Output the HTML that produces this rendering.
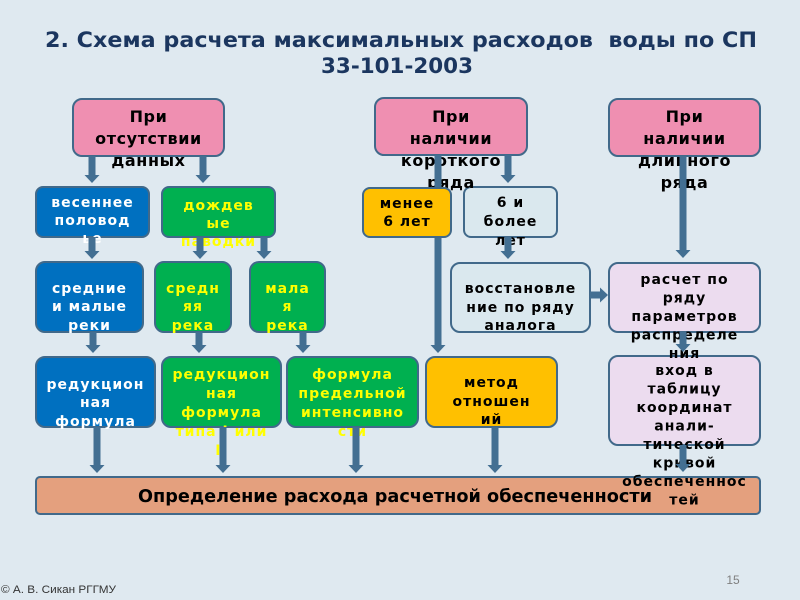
<!DOCTYPE html>
<html><head><meta charset="utf-8"><style>
html,body{margin:0;padding:0;background:#dfe9f0;}
svg{display:block;}
.b{font-family:"DejaVu Sans","Liberation Sans",sans-serif;font-weight:bold;font-size:14px;letter-spacing:1px;text-anchor:middle;}
.p{font-family:"DejaVu Sans","Liberation Sans",sans-serif;font-weight:bold;font-size:16px;letter-spacing:0.6px;text-anchor:middle;fill:#000;}
.w{fill:#fff;}.y{fill:#ffff00;}.k{fill:#000;}
</style></head><body>
<svg width="800" height="600" viewBox="0 0 800 600" xmlns="http://www.w3.org/2000/svg">
<rect x="0" y="0" width="800" height="600" fill="#dfe9f0"/>
<!-- title -->
<text x="401" y="47" font-family="DejaVu Sans, Liberation Sans, sans-serif" font-weight="bold" font-size="21" fill="#1b365f" text-anchor="middle" textLength="712" lengthAdjust="spacingAndGlyphs" xml:space="preserve">2. Схема расчета максимальных расходов  воды по СП</text>
<text x="397" y="73" font-family="DejaVu Sans, Liberation Sans, sans-serif" font-weight="bold" font-size="21" fill="#1b365f" text-anchor="middle" textLength="152" lengthAdjust="spacingAndGlyphs">33-101-2003</text>

<g stroke="#41698a" stroke-width="2">
<!-- top pink -->
<rect x="73" y="99" width="151" height="57" rx="9" fill="#ef8fb1"/>
<rect x="375" y="98" width="152" height="57" rx="9" fill="#ef8fb1"/>
<rect x="609" y="99" width="151" height="57" rx="9" fill="#ef8fb1"/>
<!-- row1 -->
<rect x="36" y="187" width="113" height="50" rx="7" fill="#0070c0"/>
<rect x="162" y="187" width="113" height="50" rx="7" fill="#00b050"/>
<rect x="464" y="187" width="93" height="50" rx="7" fill="#dae8ee"/>
<!-- row2 -->
<rect x="36" y="262" width="107" height="70" rx="9" fill="#0070c0"/>
<rect x="155" y="262" width="76" height="70" rx="9" fill="#00b050"/>
<rect x="250" y="262" width="75" height="70" rx="9" fill="#00b050"/>
<rect x="451" y="263" width="139" height="69" rx="9" fill="#dae8ee"/>
<rect x="609" y="263" width="151" height="69" rx="9" fill="#ecdcef"/>
<!-- row3 -->
<rect x="36" y="357" width="119" height="70" rx="9" fill="#0070c0"/>
<rect x="162" y="357" width="119" height="70" rx="9" fill="#00b050"/>
<rect x="287" y="357" width="131" height="70" rx="9" fill="#00b050"/>
<rect x="426" y="357" width="131" height="70" rx="9" fill="#ffc000"/>
<rect x="609" y="356" width="151" height="89" rx="9" fill="#ecdcef"/>
<!-- bottom bar -->
<rect x="36" y="477" width="724" height="37" rx="4" fill="#e4a07e"/>
</g>

<!-- texts -->
<text class="p" x="148.5"><tspan x="148.5" y="122">При</tspan><tspan x="148.5" y="144">отсутствии</tspan><tspan x="148.5" y="166">данных</tspan></text>
<text class="p" x="451"><tspan x="451" y="122">При</tspan><tspan x="451" y="144">наличии</tspan><tspan x="451" y="166">короткого</tspan><tspan x="451" y="188">ряда</tspan></text>
<text class="p" x="684.5"><tspan x="684.5" y="122">При</tspan><tspan x="684.5" y="144">наличии</tspan><tspan x="684.5" y="166">длинного</tspan><tspan x="684.5" y="188">ряда</tspan></text>

<text class="b w"><tspan x="92.5" y="207">весеннее</tspan><tspan x="92.5" y="225">половод</tspan><tspan x="92.5" y="243">ье</tspan></text>
<text class="b y"><tspan x="218.5" y="210">дождев</tspan><tspan x="218.5" y="228">ые</tspan><tspan x="218.5" y="246">паводки</tspan></text>
<text class="b k"><tspan x="510.5" y="207">6 и</tspan><tspan x="510.5" y="226">более</tspan><tspan x="510.5" y="245">лет</tspan></text>

<text class="b w"><tspan x="89.5" y="293">средние</tspan><tspan x="89.5" y="311">и малые</tspan><tspan x="89.5" y="330">реки</tspan></text>
<text class="b y"><tspan x="193" y="293">средн</tspan><tspan x="193" y="311">яя</tspan><tspan x="193" y="330">река</tspan></text>
<text class="b y"><tspan x="287.5" y="293">мала</tspan><tspan x="287.5" y="311">я</tspan><tspan x="287.5" y="330">река</tspan></text>
<text class="b k"><tspan x="520.5" y="293">восстановле</tspan><tspan x="520.5" y="312">ние по ряду</tspan><tspan x="520.5" y="330">аналога</tspan></text>
<text class="b k"><tspan x="684.5" y="284">расчет по</tspan><tspan x="684.5" y="302.5">ряду</tspan><tspan x="684.5" y="321">параметров</tspan><tspan x="684.5" y="339.5">распределе</tspan><tspan x="684.5" y="358">ния</tspan></text>

<text class="b w"><tspan x="95.5" y="389">редукцион</tspan><tspan x="95.5" y="407">ная</tspan><tspan x="95.5" y="426">формула</tspan></text>
<text class="b y"><tspan x="221.5" y="379">редукцион</tspan><tspan x="221.5" y="398">ная</tspan><tspan x="221.5" y="417">формула</tspan><tspan x="221.5" y="436">типа I или</tspan><tspan x="221.5" y="455">II</tspan></text>
<text class="b y"><tspan x="352.5" y="379">формула</tspan><tspan x="352.5" y="398">предельной</tspan><tspan x="352.5" y="417">интенсивно</tspan><tspan x="352.5" y="436">сти</tspan></text>
<text class="b k"><tspan x="491.5" y="387">метод</tspan><tspan x="491.5" y="406">отношен</tspan><tspan x="491.5" y="424">ий</tspan></text>
<text class="b k"><tspan x="684.5" y="375">вход в</tspan><tspan x="684.5" y="393.5">таблицу</tspan><tspan x="684.5" y="412">координат</tspan><tspan x="684.5" y="430.5">анали-</tspan><tspan x="684.5" y="449">тической</tspan><tspan x="684.5" y="467.5">кривой</tspan><tspan x="684.5" y="486">обеспеченнос</tspan><tspan x="684.5" y="504.5">тей</tspan></text>

<text x="395" y="502" font-family="DejaVu Sans, Liberation Sans, sans-serif" font-weight="bold" font-size="18" fill="#000" text-anchor="middle" textLength="514" lengthAdjust="spacingAndGlyphs">Определение расхода расчетной обеспеченности</text>

<!-- arrows -->
<g fill="#436f92" stroke="none">
<rect x="88.5" y="156" width="7" height="20"/><polygon points="84.5,175 99.5,175 92,183"/>
<rect x="199.5" y="156" width="7" height="20"/><polygon points="195.5,175 210.5,175 203,183"/>
<rect x="434.5" y="155" width="7" height="191"/><polygon points="430.5,345 445.5,345 438,353"/>
<rect x="504.5" y="155" width="7" height="21"/><polygon points="500.5,175 515.5,175 508,183"/>
<rect x="679.5" y="156" width="7" height="95"/><polygon points="675.5,250 690.5,250 683,258"/>

<rect x="88.5" y="237" width="7" height="15"/><polygon points="84.5,251 99.5,251 92,259"/>
<rect x="196.5" y="237" width="7" height="15"/><polygon points="192.5,251 207.5,251 200,259"/>
<rect x="260.5" y="237" width="7" height="15"/><polygon points="256.5,251 271.5,251 264,259"/>
<rect x="504.5" y="237" width="7" height="15"/><polygon points="500.5,251 515.5,251 508,259"/>

<rect x="89.5" y="332" width="7" height="14"/><polygon points="85.5,345 100.5,345 93,353"/>
<rect x="195.5" y="332" width="7" height="14"/><polygon points="191.5,345 206.5,345 199,353"/>
<rect x="299.5" y="332" width="7" height="14"/><polygon points="295.5,345 310.5,345 303,353"/>
<rect x="679.5" y="332" width="7" height="13"/><polygon points="675.5,344 690.5,344 683,352"/>

<rect x="590" y="291.5" width="11" height="7"/><polygon points="600,287.5 600,302.5 608,295"/>

<rect x="93.5" y="427" width="7" height="39"/><polygon points="89.5,465 104.5,465 97,473"/>
<rect x="219.5" y="427" width="7" height="39"/><polygon points="215.5,465 230.5,465 223,473"/>
<rect x="352.5" y="427" width="7" height="39"/><polygon points="348.5,465 363.5,465 356,473"/>
<rect x="491.5" y="427" width="7" height="39"/><polygon points="487.5,465 502.5,465 495,473"/>
<rect x="679.5" y="445" width="7" height="20"/><polygon points="675.5,464 690.5,464 683,472"/>
</g>

<!-- менее 6 лет box drawn above the long arrow -->
<rect x="363" y="188" width="88" height="49" rx="7" fill="#ffc000" stroke="#41698a" stroke-width="2"/>
<text class="b k"><tspan x="407" y="208">менее</tspan><tspan x="407" y="226">6 лет</tspan></text>

<!-- footer -->
<text x="733" y="584" font-family="Liberation Sans, sans-serif" font-size="12" fill="#7f7f7f" text-anchor="middle">15</text>
<text x="1" y="593" font-family="Liberation Sans, sans-serif" font-size="11" fill="#333" textLength="115" lengthAdjust="spacingAndGlyphs">© А. В. Сикан РГГМУ</text>
</svg>
</body></html>
